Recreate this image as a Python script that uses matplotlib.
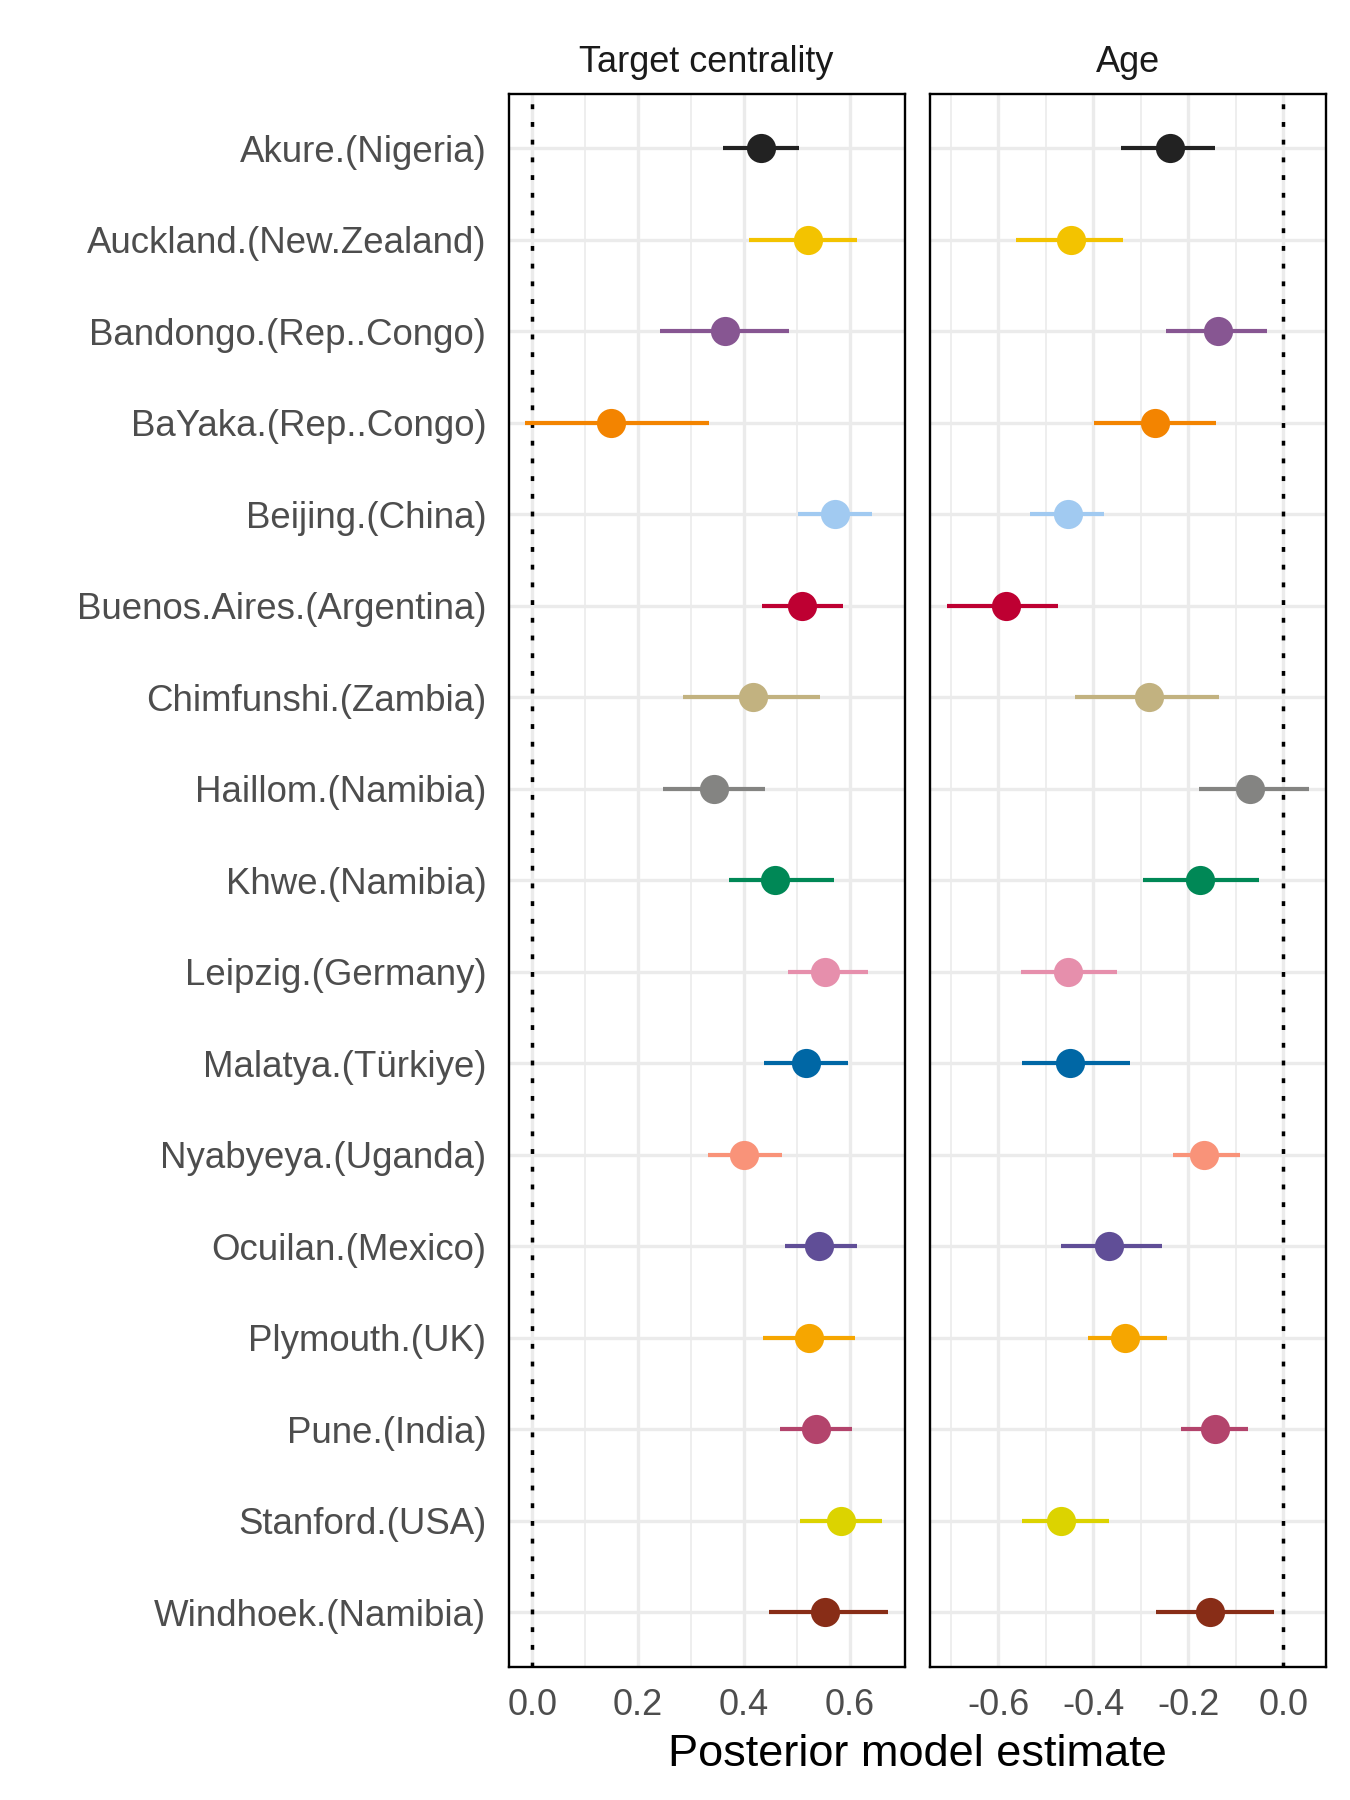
import matplotlib
matplotlib.use("Agg")
import matplotlib.pyplot as plt
from matplotlib.ticker import FixedLocator

plt.rcParams['font.family'] = ['Liberation Sans', 'DejaVu Sans']

sites = ["Akure.(Nigeria)", "Auckland.(New.Zealand)", "Bandongo.(Rep..Congo)",
         "BaYaka.(Rep..Congo)", "Beijing.(China)", "Buenos.Aires.(Argentina)",
         "Chimfunshi.(Zambia)", "Haillom.(Namibia)", "Khwe.(Namibia)",
         "Leipzig.(Germany)", "Malatya.(Türkiye)", "Nyabyeya.(Uganda)",
         "Ocuilan.(Mexico)", "Plymouth.(UK)", "Pune.(India)", "Stanford.(USA)",
         "Windhoek.(Namibia)"]

colors = ["#222222", "#F3C300", "#875692", "#F38400", "#A1CAF1", "#BE0032",
          "#C2B280", "#848482", "#008856", "#E68FAC", "#0067A5", "#F99379",
          "#604E97", "#F6A600", "#B3446C", "#DCD300", "#882D17"]

# Target centrality
tc_est = [0.431, 0.520, 0.364, 0.148, 0.572, 0.509, 0.416, 0.344, 0.458,
          0.553, 0.517, 0.399, 0.541, 0.523, 0.535, 0.583, 0.552]
tc_lo = [0.360, 0.409, 0.242, -0.013, 0.502, 0.433, 0.284, 0.247, 0.372,
         0.483, 0.438, 0.331, 0.477, 0.435, 0.468, 0.506, 0.446]
tc_hi = [0.504, 0.613, 0.485, 0.334, 0.641, 0.586, 0.543, 0.439, 0.570,
         0.633, 0.597, 0.471, 0.613, 0.609, 0.604, 0.660, 0.671]

# Age
age_est = [-0.238, -0.448, -0.137, -0.271, -0.454, -0.584, -0.282, -0.070, -0.175,
           -0.454, -0.449, -0.168, -0.368, -0.333, -0.144, -0.469, -0.154]
age_lo = [-0.342, -0.562, -0.248, -0.398, -0.533, -0.708, -0.438, -0.177, -0.295,
          -0.552, -0.550, -0.232, -0.469, -0.411, -0.215, -0.550, -0.269]
age_hi = [-0.144, -0.337, -0.034, -0.142, -0.378, -0.475, -0.135, 0.054, -0.051,
          -0.351, -0.323, -0.091, -0.256, -0.244, -0.075, -0.368, -0.020]

panel_titles = ["Target centrality", "Age"]
xlabel = "Posterior model estimate"

W, H = 1350, 1800
fig = plt.figure(figsize=(13.5, 18), dpi=100)

def fx(px):
    return px / W

def fy(py):
    return 1 - py / H

top, bottom = 93.5, 1667.0
panels = [(508.5, 904.6), (929.5, 1326.0)]
xlims = [(-0.045, 0.703), (-0.745, 0.0898)]
major = [[0.0, 0.2, 0.4, 0.6], [-0.6, -0.4, -0.2, 0.0]]
minor = [[0.1, 0.3, 0.5], [-0.7, -0.5, -0.3, -0.1]]
datasets = [(tc_est, tc_lo, tc_hi), (age_est, age_lo, age_hi)]

n = len(sites)
ypos = [n - i for i in range(n)]

for k, ((x0, x1), xl, (est, lo, hi)) in enumerate(zip(panels, xlims, datasets)):
    ax = fig.add_axes([fx(x0), fy(bottom), fx(x1 - x0), (bottom - top) / H])
    ax.set_xlim(*xl)
    ax.set_ylim(0.4, n + 0.6)
    ax.xaxis.set_major_locator(FixedLocator(major[k]))
    ax.xaxis.set_minor_locator(FixedLocator(minor[k]))
    ax.set_yticks(ypos)
    ax.grid(True, which='major', axis='both', color='#EBEBEB', lw=2.4, zorder=0)
    ax.grid(True, which='minor', axis='x', color='#EBEBEB', lw=1.2, zorder=0)
    ax.set_axisbelow(True)
    ax.axvline(0, color='black', lw=2.5, linestyle=(0, (1.4, 3.7)), zorder=1)
    for i in range(n):
        ax.plot([lo[i], hi[i]], [ypos[i], ypos[i]], color=colors[i], lw=3.0,
                solid_capstyle='butt', zorder=2)
        ax.plot([est[i]], [ypos[i]], 'o', color=colors[i], ms=21, mew=0, zorder=3)
    for sp in ax.spines.values():
        sp.set_color('black')
        sp.set_linewidth(1.7)
    ax.tick_params(axis='both', which='both', length=0)
    ax.tick_params(axis='x', labelsize=26, labelcolor='#4D4D4D', pad=15)
    labels = [f"{v:.1f}" for v in major[k]]
    ax.set_xticklabels(labels)
    if k == 0:
        ax.set_yticklabels(sites)
        ax.tick_params(axis='y', labelsize=26.4, labelcolor='#4D4D4D', pad=16)
    else:
        ax.set_yticklabels([])
    ax.text(0.5, 1 + 21 / (bottom - top), panel_titles[k], transform=ax.transAxes,
            ha='center', va='baseline', fontsize=26, color='#1A1A1A')

fig.text(fx(917.5), fy(1766), xlabel, ha='center', va='baseline', fontsize=32.5,
         color='black')

fig.savefig("out.png", dpi=100, facecolor='white')
